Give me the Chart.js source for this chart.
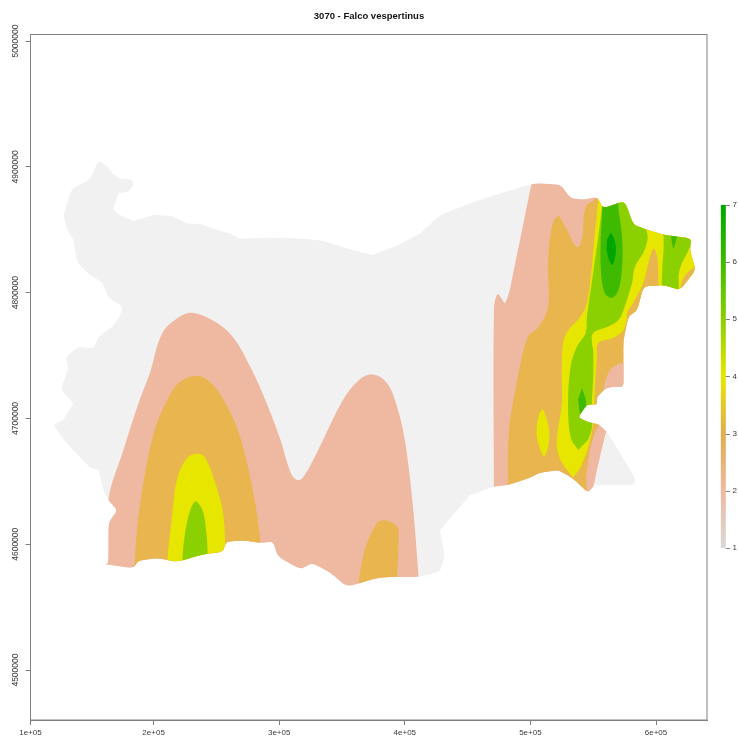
<!DOCTYPE html>
<html>
<head>
<meta charset="utf-8">
<title>3070 - Falco vespertinus</title>
<script src="https://cdn.jsdelivr.net/npm/chart.js@4"></script>
<style>
  html, body { margin: 0; padding: 0; background: #fff; overflow: hidden; }
  canvas { display: block; filter: blur(0.6px); }
</style>
</head>
<body>
<canvas id="chart" width="738" height="737"></canvas>
<script>
// map coordinates are in km: [x, y]
const xTickValues = [102, 200, 300, 400, 500, 600];
const xTickLabels = ["1e+05", "2e+05", "3e+05", "4e+05", "5e+05", "6e+05"];
const yTickValues = [4500, 4600, 4700, 4800, 4900, 5000];
const yTickLabels = ["4500000", "4600000", "4700000", "4800000", "4900000", "5000000"];
const legendTicks = [1, 2, 3, 4, 5, 6, 7];
const legendColors = ["#d9d9d9", "#eeb9a0", "#e3ac4c", "#e6e600", "#8bd000", "#3ebb00", "#00a600"];

const countryOutline = [[156,4905],[163,4901],[167,4895],[173,4891],[183,4890],[184,4885],[180,4880],[172,4879],[168,4866],[173,4862],[184,4857],[200,4862],[215,4861],[227,4855],[237,4855],[247,4851],[261,4847],[269,4843],[301,4844],[332,4842],[352,4836],[374,4830],[395,4838],[412,4847],[428,4862],[460,4874],[502,4887],[524,4886],[532,4875],[542,4874],[553,4876],[558,4867],[575,4873],[582,4854],[593,4850],[606,4846],[628,4843],[627,4834],[631,4820],[630,4816],[619,4802],[606,4806],[590,4805],[585,4786],[578,4781],[574,4762],[574,4739],[574,4725],[561,4725],[553,4717],[553,4711],[545,4711],[538,4701],[546,4697],[555,4695],[562,4688],[587,4647],[551,4647],[546,4641],[533,4653],[522,4659],[508,4657],[500,4653],[482,4647],[472,4646],[452,4639],[428,4611],[432,4591],[428,4578],[411,4574],[380,4574],[354,4566],[340,4578],[326,4585],[317,4580],[299,4590],[295,4602],[285,4601],[271,4603],[258,4602],[255,4594],[239,4592],[219,4586],[203,4589],[188,4587],[184,4581],[161,4584],[164,4585],[164,4617],[171,4627],[164,4635],[160,4643],[156,4659],[149,4661],[130,4681],[120,4695],[128,4699],[136,4712],[126,4723],[132,4740],[130,4749],[140,4757],[152,4756],[156,4765],[167,4773],[173,4781],[175,4789],[164,4796],[159,4808],[149,4814],[139,4824],[136,4842],[131,4850],[128,4862],[135,4883],[149,4890]];

const band2West = [[161,4556],[164,4635],[176,4675],[189,4715],[197,4736],[207,4768],[221,4781],[231,4784],[247,4778],[263,4765],[277,4741],[290,4712],[301,4683],[309,4657],[314,4651],[319,4653],[332,4677],[351,4715],[364,4731],[375,4735],[386,4728],[394,4709],[400,4683],[406,4635],[411,4574],[412,4556]];
const band2East = [[471,4631],[471,4786],[474,4799],[480,4792],[488,4824],[501,4887],[504,4897],[651,4897],[651,4794],[587,4731],[563,4695],[561,4692],[553,4659],[548,4635]];

const band3West = [[184,4556],[185,4587],[189,4630],[200,4688],[212,4717],[221,4729],[235,4734],[247,4727],[259,4709],[269,4685],[279,4643],[285,4602],[286,4556]];
const band3Middle = [[362,4556],[363,4568],[368,4595],[378,4617],[384,4619],[394,4614],[395,4603],[394,4574],[394,4556]];
const band3East = [[482,4635],[482,4647],[483,4691],[490,4733],[498,4765],[506,4772],[514,4789],[514,4824],[517,4852],[522,4861],[528,4852],[537,4836],[541,4842],[544,4868],[553,4876],[555,4890],[651,4890],[651,4778],[587,4715],[555,4695],[545,4659],[545,4639]];
const band2Bay = [[559,4728],[562,4736],[566,4741],[573,4744],[579,4745],[587,4715],[558,4721]];

const band4West = [[210,4556],[211,4587],[215,4625],[219,4653],[227,4669],[235,4672],[241,4669],[249,4649],[255,4627],[257,4602],[258,4556]];
const band4Isle = [[510,4708],[514,4696],[515,4683],[511,4670],[506,4681],[505,4693],[507,4704]];
const band4East = [[534,4653],[524,4667],[521,4681],[525,4712],[525,4739],[526,4760],[530,4770],[540,4781],[545,4792],[548,4812],[551,4844],[554,4875],[554,4897],[651,4897],[651,4778],[587,4778],[578,4780],[574,4770],[566,4764],[554,4760],[553,4749],[551,4717],[550,4696],[546,4677],[540,4661]];
const band3Coast = [[577,4778],[577,4784],[582,4792],[590,4808],[594,4824],[598,4835],[601,4828],[602,4808],[603,4794],[579,4770]];
const band3Tip = [[619,4798],[619,4802],[622,4812],[630,4820],[635,4822],[635,4794]];

const band5West = [[223,4556],[223,4589],[227,4619],[233,4634],[239,4627],[242,4609],[243,4593],[243,4556]];
const band5East = [[538,4675],[532,4685],[530,4712],[532,4741],[537,4757],[544,4768],[545,4781],[548,4802],[554,4844],[557,4868],[558,4882],[579,4882],[593,4847],[591,4834],[583,4820],[581,4808],[574,4786],[570,4778],[562,4773],[550,4768],[549,4760],[550,4754],[550,4733],[549,4712],[549,4693],[546,4683]];
const band5Coast = [[606,4851],[606,4834],[605,4818],[606,4800],[617,4800],[618,4814],[620,4822],[625,4832],[628,4838],[633,4851]];

const band6North = [[558,4882],[570,4882],[570,4868],[573,4844],[573,4820],[570,4802],[565,4796],[559,4800],[556,4820],[556,4844]];
const band6Bay = [[541,4724],[544,4715],[544,4707],[540,4703],[538,4715]];
const band6Coast = [[611,4850],[617,4850],[614,4835],[613,4838]];
const band7North = [[564,4848],[567,4842],[568,4832],[565,4822],[561,4832],[561,4842]];

const regions = [
  { points: countryOutline, color: "#f1f1f1", tension: 0 },
  { points: band2West, color: "#eeb9a0" },
  { points: band2East, color: "#eeb9a0" },
  { points: band3West, color: "#e8b54f" },
  { points: band3Middle, color: "#e8b54f" },
  { points: band3East, color: "#e8b54f" },
  { points: band2Bay, color: "#eeb9a0" },
  { points: band4West, color: "#e6e600" },
  { points: band4Isle, color: "#e6e600" },
  { points: band4East, color: "#e6e600" },
  { points: band3Coast, color: "#e8b54f" },
  { points: band3Tip, color: "#e8b54f" },
  { points: band5West, color: "#8bd000" },
  { points: band5East, color: "#8bd000" },
  { points: band5Coast, color: "#8bd000" },
  { points: band6North, color: "#3ebb00" },
  { points: band6Bay, color: "#3ebb00" },
  { points: band6Coast, color: "#3ebb00" },
  { points: band7North, color: "#00a600" }
];

const AXIS_GREY = "#808080";
const TEXT_GREY = "#3a3a3a";
const LEGEND_X = 653.6;
const CORNER_CUT = 0.25;

// contours run past the border, the outline cuts them off
const outlineClip = {
  id: "outlineClip",
  beforeDatasetsDraw(chart) {
    const { ctx, scales } = chart;
    const pts = countryOutline.map(([x, y]) => [scales.x.getPixelForValue(x), scales.y.getPixelForValue(y)]);
    const along = (a, b, t) => [a[0] + (b[0] - a[0]) * t, a[1] + (b[1] - a[1]) * t];
    ctx.save();
    ctx.beginPath();
    pts.forEach((p, i) => {
      const prev = pts[(i + pts.length - 1) % pts.length];
      const next = pts[(i + 1) % pts.length];
      const [sx, sy] = along(p, prev, CORNER_CUT);
      if (i === 0) ctx.moveTo(sx, sy);
      else ctx.lineTo(sx, sy);
      ctx.quadraticCurveTo(p[0], p[1], ...along(p, next, CORNER_CUT));
    });
    ctx.closePath();
    ctx.clip();
  },
  afterDatasetsDraw(chart) {
    chart.ctx.restore();
  }
};

const plotFrame = {
  id: "plotFrame",
  afterDraw(chart) {
    const { ctx, chartArea: a } = chart;
    ctx.save();
    ctx.strokeStyle = AXIS_GREY;
    ctx.lineWidth = 1;
    ctx.strokeRect(a.left, a.top, a.right - a.left, a.bottom - a.top);
    ctx.restore();
  }
};

// colour key at the right, placed with the legendY scale
const colourKey = {
  id: "colourKey",
  afterDraw(chart) {
    const { ctx, scales } = chart;
    const left = scales.x.getPixelForValue(LEGEND_X) - 2.5;
    const top = scales.legendY.getPixelForValue(7);
    const bottom = scales.legendY.getPixelForValue(1);
    const grad = ctx.createLinearGradient(0, bottom, 0, top);
    legendColors.forEach((c, i) => grad.addColorStop(i / (legendColors.length - 1), c));
    ctx.save();
    ctx.fillStyle = grad;
    ctx.fillRect(left, top, 5, bottom - top);
    ctx.strokeStyle = AXIS_GREY;
    ctx.lineWidth = 1;
    legendTicks.forEach(v => {
      const py = Math.round(scales.legendY.getPixelForValue(v)) + 0.5;
      ctx.beginPath();
      ctx.moveTo(left + 5, py);
      ctx.lineTo(left + 9, py);
      ctx.stroke();
    });
    ctx.restore();
  }
};

new Chart(document.getElementById("chart"), {
  type: "scatter",
  data: {
    // chart.js paints the highest order first
    datasets: regions.map((r, i) => ({
      data: r.points.map(([x, y]) => ({ x, y })),
      order: regions.length - i,
      showLine: true,
      fill: "shape",
      backgroundColor: r.color,
      borderWidth: 0,
      pointRadius: 0,
      tension: r.tension === undefined ? 0.35 : r.tension
    }))
  },
  plugins: [outlineClip, plotFrame, colourKey],
  options: {
    responsive: false,
    animation: false,
    layout: { padding: 0 },
    plugins: {
      legend: { display: false },
      tooltip: { enabled: false },
      title: {
        display: true,
        text: "3070 - Falco vespertinus",
        color: "#111",
        font: { family: "Liberation Sans", size: 9.5, weight: "bold", lineHeight: 1.2 },
        padding: { top: 11, bottom: 12.1 }
      }
    },
    scales: {
      x: {
        type: "linear",
        min: 102,
        max: 640.6,
        border: { color: AXIS_GREY },
        grid: { drawOnChartArea: false, color: AXIS_GREY, tickLength: 5 },
        ticks: {
          color: TEXT_GREY,
          font: { family: "Liberation Sans", size: 8 },
          padding: 3,
          maxRotation: 0,
          autoSkip: false,
          callback: (v, i) => xTickLabels[i]
        },
        afterBuildTicks: s => { s.ticks = xTickValues.map(value => ({ value })); },
        afterFit: s => { s.height = 17; s.paddingLeft = 0; s.paddingRight = 0; }
      },
      y: {
        type: "linear",
        min: 4460.3,
        max: 5005.2,
        border: { color: AXIS_GREY },
        grid: { drawOnChartArea: false, color: AXIS_GREY, tickLength: 5 },
        ticks: {
          color: TEXT_GREY,
          font: { family: "Liberation Sans", size: 8.5 },
          padding: -6.7,
          minRotation: 90,
          maxRotation: 90,
          crossAlign: "center",
          autoSkip: false,
          callback: (v, i) => yTickLabels[i]
        },
        afterBuildTicks: s => { s.ticks = yTickValues.map(value => ({ value })); },
        afterFit: s => { s.width = 30.5; s.paddingTop = 0; s.paddingBottom = 0; }
      },
      legendY: {
        type: "linear",
        position: "right",
        min: -2.01,
        max: 9.98,
        border: { display: false },
        grid: { display: false },
        ticks: {
          color: TEXT_GREY,
          font: { family: "Liberation Sans", size: 8 },
          padding: 17.5,
          autoSkip: false,
          callback: v => String(v)
        },
        afterBuildTicks: s => { s.ticks = legendTicks.map(value => ({ value })); },
        afterFit: s => { s.width = 31; s.paddingTop = 0; s.paddingBottom = 0; }
      }
    }
  }
});
</script>
</body>
</html>
